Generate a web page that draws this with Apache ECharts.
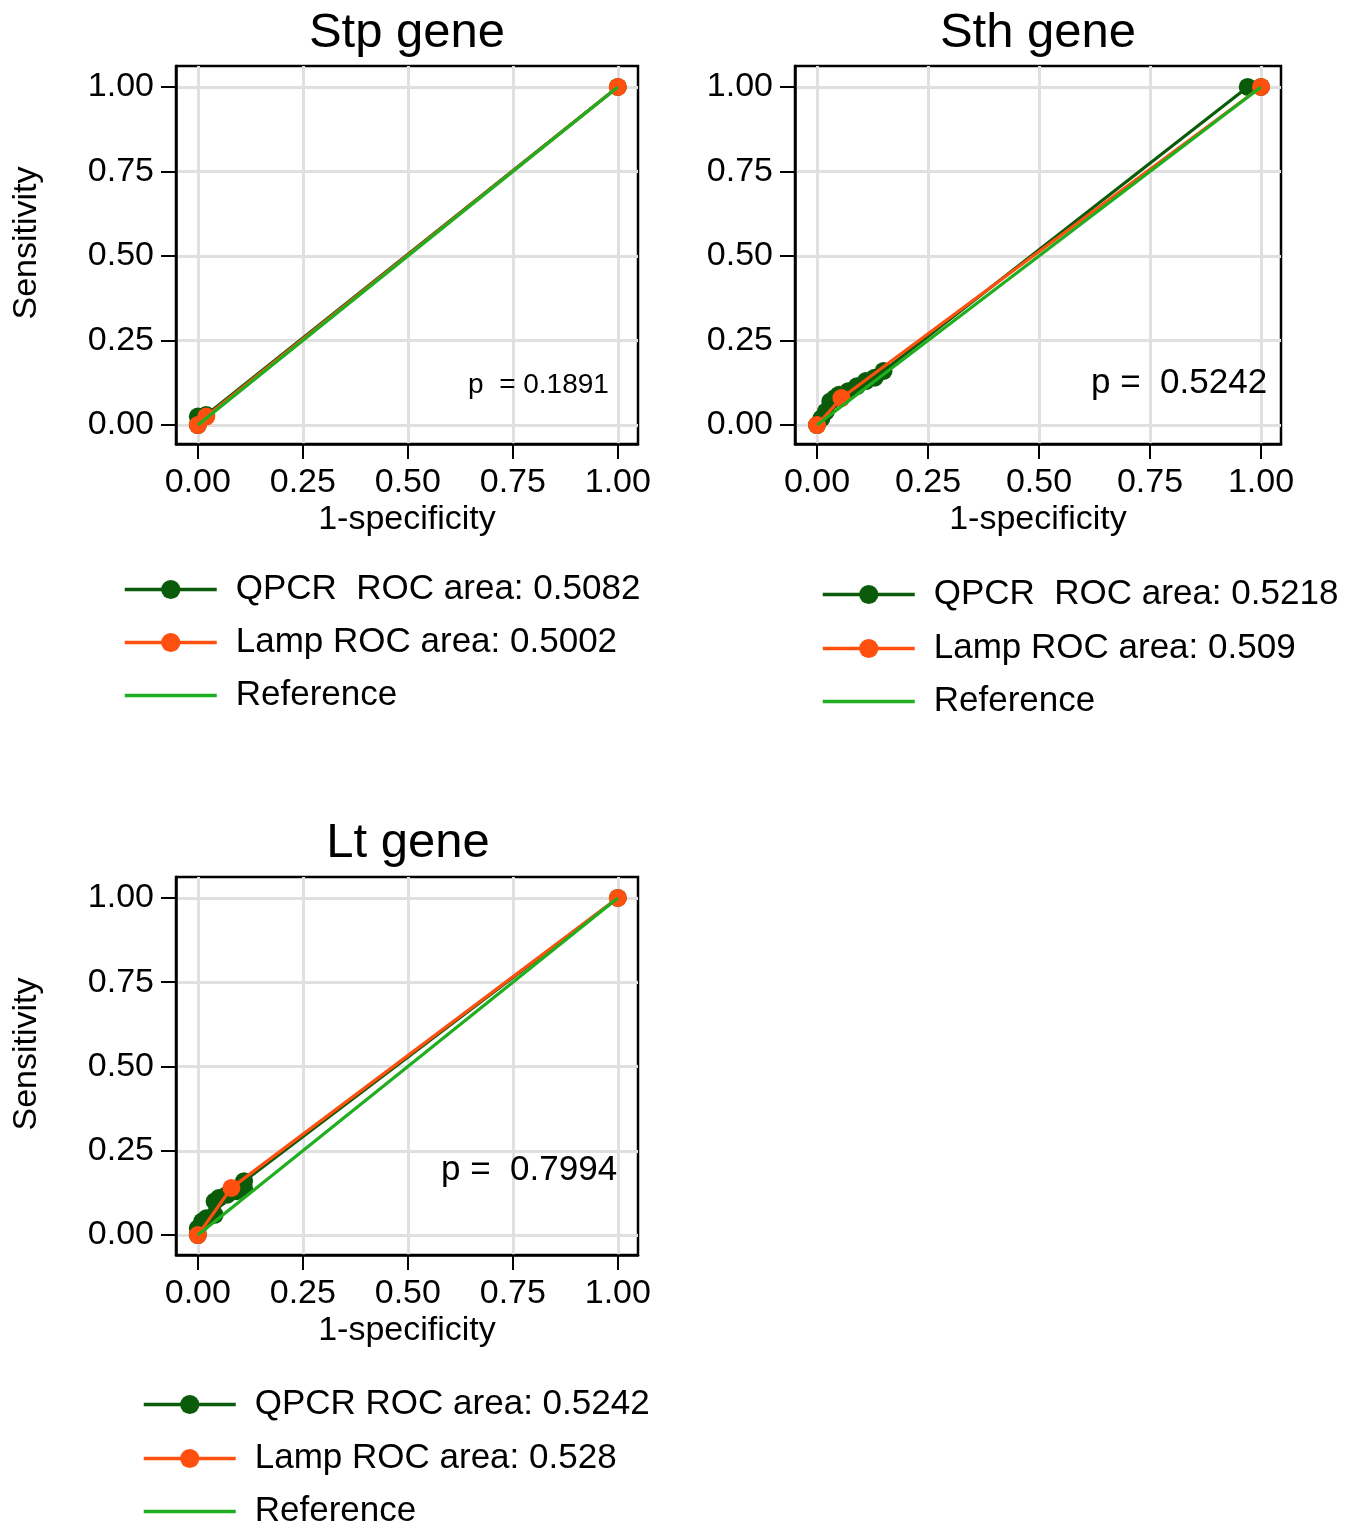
<!DOCTYPE html>
<html><head><meta charset="utf-8">
<script src="https://cdn.jsdelivr.net/npm/echarts@6/dist/echarts.min.js"></script>
<style>html,body{margin:0;padding:0;background:#fff}#c{width:1362px;height:1525px}</style>
</head><body><div id="c"></div>
<script>
// ---- data ----
const ticks = [0, 0.25, 0.5, 0.75, 1];
const tickLabels = ['0.00', '0.25', '0.50', '0.75', '1.00'];
const panelTitles = ['Stp gene', 'Sth gene', 'Lt gene'];
const pValues = ['p  = 0.1891', 'p =  0.5242', 'p =  0.7994'];

const stpQpcrX = [0, 0, 0.02, 1];
const stpQpcrY = [0, 0.025, 0.03, 1];
const stpLampX = [0, 0.02, 1];
const stpLampY = [0, 0.025, 1];

const sthQpcrX = [0, 0.01, 0.02, 0.03, 0.04, 0.05, 0.07, 0.09, 0.11, 0.13, 0.15, 0.97, 1];
const sthQpcrY = [0, 0.02, 0.04, 0.07, 0.08, 0.09, 0.10, 0.115, 0.13, 0.14, 0.16, 1, 1];
const sthLampX = [0, 0.055, 1];
const sthLampY = [0, 0.08, 1];

const ltQpcrX = [0, 0, 0.01, 0.02, 0.04, 0.04, 0.05, 0.07, 0.09, 0.11, 0.11, 1];
const ltQpcrY = [0, 0.02, 0.04, 0.05, 0.06, 0.10, 0.11, 0.12, 0.13, 0.14, 0.16, 1];
const ltLampX = [0, 0.08, 1];
const ltLampY = [0, 0.14, 1];

const refX = [0, 1];
const refY = [0, 1];

const qpcrNames = ['QPCR  ROC area: 0.5082', 'QPCR  ROC area: 0.5218', 'QPCR ROC area: 0.5242'];
const lampNames = ['Lamp ROC area: 0.5002', 'Lamp ROC area: 0.509', 'Lamp ROC area: 0.528'];
const refName = 'Reference';

// ---- layout / style ----
const FONT = 'Liberation Sans, Arial, Helvetica, sans-serif';
const C_QPCR = '#0a5c0a', C_LAMP = '#ff5010', C_REF = '#1fae1f';
const zip = (xs, ys) => xs.map((x, i) => [x, ys[i]]);
const fmt = v => { const k = ticks.findIndex(t => Math.abs(t - v) < 1e-9); return k >= 0 ? tickLabels[k] : ''; };

const panels = [
  {grid: {left: 176, top: 66, width: 462, height: 378}, xr: [-0.052, 1.048], yr: [-0.056, 1.062],
   q: zip(stpQpcrX, stpQpcrY), l: zip(stpLampX, stpLampY), showY: true,
   legend: {left: 123, rows: [588, 641, 694]}, title: {x: 407, y: 33}, p: {x: 468, y: 385, size: 28}},
  {grid: {left: 795, top: 66, width: 486, height: 378}, xr: [-0.0495, 1.045], yr: [-0.056, 1.062],
   q: zip(sthQpcrX, sthQpcrY), l: zip(sthLampX, sthLampY), showY: false,
   legend: {left: 821, rows: [593, 647, 700]}, title: {x: 1038, y: 33}, p: {x: 1091, y: 383, size: 35}},
  {grid: {left: 176, top: 877, width: 462, height: 378}, xr: [-0.052, 1.048], yr: [-0.059, 1.062],
   q: zip(ltQpcrX, ltQpcrY), l: zip(ltLampX, ltLampY), showY: true,
   legend: {left: 142, rows: [1403, 1457, 1510]}, title: {x: 408, y: 843}, p: {x: 441, y: 1170, size: 35}}
];

const option = {
  animation: false,
  backgroundColor: '#fff',
  textStyle: {fontFamily: FONT},
  grid: [], xAxis: [], yAxis: [], series: [], legend: [], graphic: []
};

const LFS = 34;
const LEGFS = 35;
panels.forEach((p, i) => {
  option.grid.push(Object.assign({show: true, borderColor: '#000', borderWidth: 2.5, backgroundColor: '#fff', containLabel: false}, p.grid));
  const axisCommon = {
    type: 'value',
    gridIndex: i,
    axisLine: {show: true, onZero: false, lineStyle: {color: '#000', width: 2.5}},
    axisTick: {show: true, length: 15, inside: false, customValues: ticks, lineStyle: {color: '#000', width: 2}},
    splitLine: {show: true, lineStyle: {color: '#e0e0e0', width: 3}},
    nameTextStyle: {color: '#000', fontSize: LFS, fontFamily: FONT}
  };
  option.xAxis.push(Object.assign({}, axisCommon, {
    min: p.xr[0], max: p.xr[1], name: '1-specificity', nameLocation: 'middle', nameGap: 59,
    axisLabel: {customValues: ticks, color: '#000', fontSize: LFS, fontFamily: FONT, formatter: fmt, margin: 22}
  }));
  option.yAxis.push(Object.assign({}, axisCommon, {
    min: p.yr[0], max: p.yr[1], name: p.showY ? 'Sensitivity' : '', nameLocation: 'middle', nameGap: 132,
    nameRotate: 90,
    nameTextStyle: {color: '#000', fontSize: LFS, fontFamily: FONT, padding: [0, 0, 0, 24]},
    axisLabel: {customValues: ticks, color: '#000', fontSize: LFS, fontFamily: FONT, formatter: fmt, margin: 22}
  }));
  option.series.push({
    name: qpcrNames[i], type: 'line', xAxisIndex: i, yAxisIndex: i, data: p.q,
    symbol: 'circle', symbolSize: 18, color: C_QPCR,
    lineStyle: {color: C_QPCR, width: 3.2}, itemStyle: {color: C_QPCR}, clip: false, z: 2
  });
  option.series.push({
    name: lampNames[i], type: 'line', xAxisIndex: i, yAxisIndex: i, data: p.l,
    symbol: 'circle', symbolSize: 18, color: C_LAMP,
    lineStyle: {color: C_LAMP, width: 3.2}, itemStyle: {color: C_LAMP}, clip: false, z: 3
  });
  option.series.push({
    name: refName, type: 'line', xAxisIndex: i, yAxisIndex: i, data: zip(refX, refY),
    symbol: 'none', showSymbol: false, color: C_REF,
    lineStyle: {color: C_REF, width: 3.2}, clip: false, z: 4
  });
  const items = [
    {name: qpcrNames[i]},
    {name: lampNames[i]},
    {name: refName, itemStyle: {color: 'rgba(0,0,0,0)', opacity: 0}}
  ];
  items.forEach((it, k) => {
    option.legend.push({
      orient: 'vertical', left: p.legend.left, top: p.legend.rows[k] - 16, padding: 0,
      itemWidth: 92, itemHeight: 24, itemGap: 0,
      selectedMode: false,
      lineStyle: {width: 3.5},
      textStyle: {color: '#000', fontSize: LEGFS, fontFamily: FONT, padding: [0, 0, 0, 14]},
      data: [it]
    });
  });
  option.graphic.push({
    type: 'text', z: 10,
    style: {text: panelTitles[i], font: '49px ' + FONT, fill: '#000', textAlign: 'center', textVerticalAlign: 'middle'},
    x: p.title.x, y: p.title.y
  });
  option.graphic.push({
    type: 'text', z: 10,
    style: {text: pValues[i], font: p.p.size + 'px ' + FONT, fill: '#000', textAlign: 'left', textVerticalAlign: 'middle'},
    x: p.p.x, y: p.p.y
  });
});

const chart = echarts.init(document.getElementById('c'), null, {renderer: 'canvas'});
chart.setOption(option);
</script>
</body></html>
